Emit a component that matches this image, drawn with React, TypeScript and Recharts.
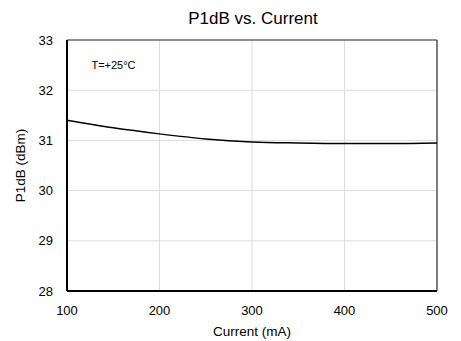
import React from 'react'
import {
  LineChart,
  Line,
  XAxis,
  YAxis,
  CartesianGrid,
  ReferenceLine,
  ReferenceDot,
  Label
} from 'recharts'

const current = [100, 150, 200, 250, 300, 350, 400, 450, 500]
const p1db = [31.4, 31.25, 31.13, 31.03, 30.97, 30.95, 30.94, 30.94, 30.95]
const xTicks = [100, 200, 300, 400, 500]
const yTicks = [28, 29, 30, 31, 32, 33]

const data = current.map((c, i) => ({ current: c, p1db: p1db[i] }))

const font = 'Arial, "Liberation Sans", sans-serif'

export default function App() {
  return (
    <div style={{ position: 'absolute', left: 0, top: 0, fontFamily: font }}>
      <LineChart
        width={461}
        height={341}
        data={data}
        margin={{ top: 40, right: 24, bottom: 20, left: 5 }}
      >
        <text x={253} y={24} textAnchor="middle" fontSize={17} fontFamily={font} fill="#000">
          P1dB vs. Current
        </text>
        <CartesianGrid stroke="#dddddd" strokeWidth={1} />
        <XAxis
          dataKey="current"
          type="number"
          domain={[100, 500]}
          ticks={xTicks}
          height={30}
          tickLine={false}
          tickMargin={9}
          axisLine={{ stroke: '#000', strokeWidth: 2 }}
          tick={{ fill: '#000', fontSize: 13, fontFamily: font }}
        >
          <Label value="Current (mA)" position="bottom" offset={5} fill="#000" fontSize={13.5} fontFamily={font} />
        </XAxis>
        <YAxis
          type="number"
          domain={[28, 33]}
          ticks={yTicks}
          width={62}
          tickLine={false}
          tickMargin={8}
          axisLine={{ stroke: '#000', strokeWidth: 2 }}
          tick={{ fill: '#000', fontSize: 13, fontFamily: font }}
        >
          <Label
            value="P1dB (dBm)"
            angle={-90}
            position="insideLeft"
            offset={15}
            style={{ textAnchor: 'middle' }}
            fill="#000"
            fontSize={13.5}
            fontFamily={font}
          />
        </YAxis>
        <ReferenceLine y={33} stroke="#333" strokeWidth={1.2} />
        <ReferenceLine x={500} stroke="#333" strokeWidth={1.2} />
        <ReferenceDot
          x={121}
          y={32.5}
          r={0}
          fill="none"
          stroke="none"
          label={{ value: 'T=+25°C', position: 'right', offset: 5, fill: '#000', fontSize: 11, fontFamily: font }}
        />
        <Line
          type="monotone"
          dataKey="p1db"
          stroke="#000"
          strokeWidth={1.5}
          dot={false}
          isAnimationActive={false}
        />
      </LineChart>
    </div>
  )
}
